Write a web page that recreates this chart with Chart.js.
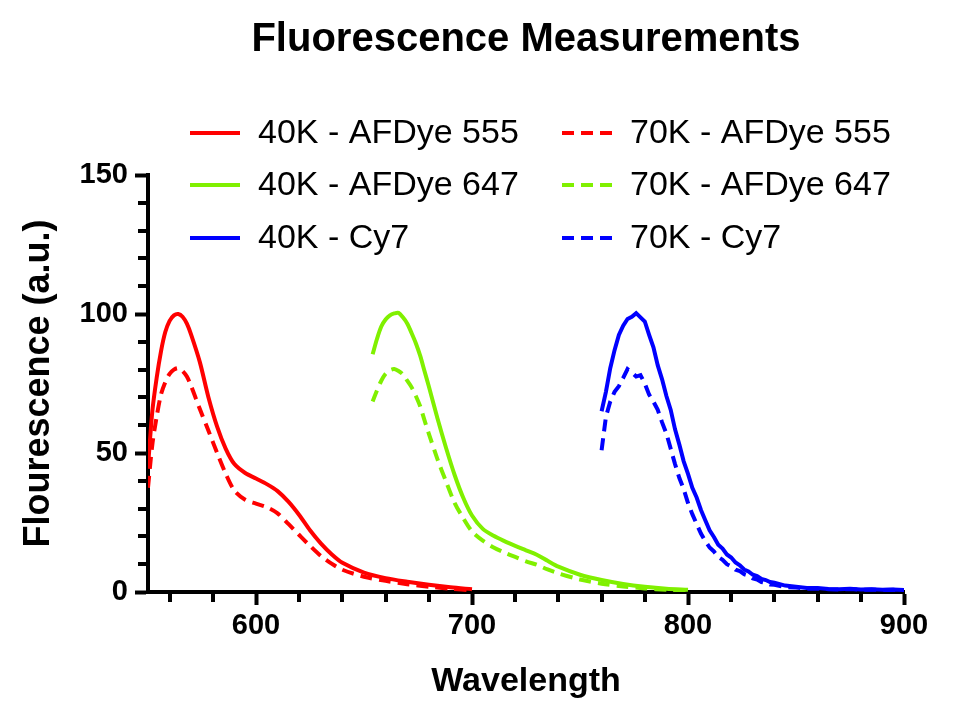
<!DOCTYPE html>
<html>
<head>
<meta charset="utf-8">
<title>Fluorescence Measurements</title>
<script src="https://cdn.jsdelivr.net/npm/chart.js@4/dist/chart.umd.min.js"></script>
<style>
  html, body { margin: 0; padding: 0; background: #fff; }
  canvas { display: block; }
</style>
</head>
<body>
<canvas id="myChart" width="980" height="716"></canvas>
<script>
// AFDye 555
var wl555 = [550, 552, 554, 556, 558, 560, 562, 564, 566, 568, 570, 574, 578, 582, 586, 590, 595, 600, 605, 610, 615, 620, 625, 630, 635, 640, 650, 660, 670, 680, 690, 700];
var afdye555_40K = [45, 65, 77, 86.5, 93.5, 97.5, 99.5, 100, 99, 96.5, 92.5, 82.7, 70, 59.5, 51.5, 46, 42.8, 40.8, 38.8, 36.3, 32.5, 27.7, 22.2, 17.5, 13.6, 10.5, 7, 5, 3.7, 2.6, 1.7, 1.0];
var afdye555_70K = [37.5, 53, 63, 71, 75.5, 78.5, 80, 80.5, 79.5, 77.5, 74, 65.8, 58, 50, 42.5, 36.5, 33.2, 31.8, 30.5, 28.3, 24.5, 20.5, 16.6, 13, 10.2, 8, 5.5, 4, 2.8, 1.9, 1.2, 0.6];

// AFDye 647
var wl647 = [654, 656, 658, 660, 662, 664, 666, 668, 670, 672, 674, 676, 678, 680, 684, 688, 692, 696, 700, 705, 710, 715, 720, 725, 730, 735, 740, 750, 760, 770, 780, 790, 800];
var afdye647_40K = [85.5, 91, 95.5, 98, 99.5, 100.2, 100.4, 98.8, 96.6, 93.2, 89.5, 85, 79.5, 74, 62.5, 51.8, 42, 33.8, 27.5, 22.7, 20.2, 18.3, 16.6, 15, 13.4, 11.2, 9.1, 6.2, 4.3, 2.9, 1.9, 1.2, 0.8];
var afdye647_70K = [68.5, 72.5, 76, 78.5, 79.8, 80.2, 79.5, 78.3, 76, 73.7, 70.5, 66.8, 61.8, 57, 47.8, 39.7, 32, 26.5, 21.8, 18.5, 16, 14.2, 12.6, 11, 9.8, 8.1, 6.7, 4.5, 3.0, 2.0, 1.3, 0.8, 0.5];

// Cy7
var wlCy7 = [760, 762, 764, 766, 768, 770, 772, 774, 776, 778, 780, 782, 784, 786, 788, 790, 792, 794, 796, 798, 800, 802, 804, 806, 808, 810, 812, 814, 816, 818, 820, 822, 824, 826, 828, 830, 832, 834, 836, 838, 840, 845, 850, 855, 860, 865, 870, 875, 880, 885, 890, 895, 900];
var cy7_40K = [65, 72, 80.5, 87, 92.5, 95.8, 98.2, 99, 100.3, 98.8, 97.3, 92.5, 88, 81.5, 76.5, 70.5, 65.5, 58.5, 53, 47, 42.5, 37.5, 34, 29.5, 25.8, 22.2, 19.8, 17, 15.6, 13.5, 12.4, 10.6, 9.6, 8.1, 7.4, 6.2, 5.7, 4.7, 4.3, 3.6, 3.3, 2.3, 1.9, 1.4, 1.4, 1.1, 1.0, 1.2, 0.9, 1.0, 0.8, 0.9, 0.7];
var cy7_70K = [51, 63, 68.5, 72, 74, 77, 80.2, 79, 77.5, 78, 75, 71, 68.5, 65.5, 61, 57, 51.5, 46, 41, 37, 32, 28, 24.5, 21, 18.3, 16, 14.6, 12.6, 11.6, 10, 9.2, 8, 7.5, 6.4, 5.9, 4.9, 4.5, 3.6, 3.3, 2.7, 2.6, 1.8, 1.6, 1.2, 1.2, 1.0, 0.9, 1.1, 0.8, 0.9, 0.7, 0.8, 0.6];

// axis ticks
var xTicks = [560, 580, 600, 620, 640, 660, 680, 700, 720, 740, 760, 780, 800, 820, 840, 860, 880, 900];
var xLabels = [600, 700, 800, 900];
var yTicks = [0, 10, 20, 30, 40, 50, 60, 70, 80, 90, 100, 110, 120, 130, 140, 150];
var yLabels = [0, 50, 100, 150];

function pts(xs, ys) {
  return xs.map(function (x, i) { return { x: x, y: ys[i] }; });
}

var RED = '#ff0000', GREEN = '#80f000', BLUE = '#0000ff';
var DASH = [12, 7];
var FONT = "'Liberation Sans', Arial, Helvetica, sans-serif";

Chart.defaults.font.family = FONT;
Chart.defaults.color = '#000';

// minor tick marks, shorter than the labelled ones
var minorTicks = {
  id: 'minorTicks',
  afterDraw: function (chart) {
    var ctx = chart.ctx, xs = chart.scales.x, ys = chart.scales.y;
    ctx.save();
    ctx.strokeStyle = '#000';
    ctx.lineWidth = 4;
    ctx.beginPath();
    xTicks.forEach(function (v) {
      if (xLabels.indexOf(v) >= 0) return;
      var px = Math.round(xs.getPixelForValue(v));
      ctx.moveTo(px, xs.top);
      ctx.lineTo(px, xs.top + 10);
    });
    yTicks.forEach(function (v) {
      if (yLabels.indexOf(v) >= 0) return;
      var py = Math.round(ys.getPixelForValue(v));
      ctx.moveTo(ys.right, py);
      ctx.lineTo(ys.right - 10, py);
    });
    ctx.stroke();
    ctx.restore();
  }
};

// two column legend inside the plot
var gridLegend = {
  id: 'gridLegend',
  afterDraw: function (chart) {
    var ctx = chart.ctx;
    var colX = [190, 562], rowY = [133, 185, 238];
    ctx.save();
    ctx.font = '34px ' + FONT;
    ctx.textBaseline = 'middle';
    ctx.fillStyle = '#000';
    chart.data.datasets.forEach(function (ds, i) {
      var x = colX[Math.floor(i / 3)], y = rowY[i % 3];
      ctx.strokeStyle = ds.borderColor;
      ctx.lineWidth = 4;
      ctx.setLineDash(ds.borderDash || []);
      ctx.beginPath();
      ctx.moveTo(x, y);
      ctx.lineTo(x + 50, y);
      ctx.stroke();
      ctx.setLineDash([]);
      ctx.fillText(ds.label, x + 68, y + 1);
    });
    ctx.restore();
  }
};

var ctx = document.getElementById('myChart').getContext('2d');
var myChart = new Chart(ctx, {
  type: 'line',
  data: {
    datasets: [
      { label: '40K - AFDye 555', data: pts(wl555, afdye555_40K), borderColor: RED },
      { label: '40K - AFDye 647', data: pts(wl647, afdye647_40K), borderColor: GREEN },
      { label: '40K - Cy7', data: pts(wlCy7, cy7_40K), borderColor: BLUE, tension: 0 },
      { label: '70K - AFDye 555', data: pts(wl555, afdye555_70K), borderColor: RED, borderDash: DASH },
      { label: '70K - AFDye 647', data: pts(wl647, afdye647_70K), borderColor: GREEN, borderDash: DASH },
      { label: '70K - Cy7', data: pts(wlCy7, cy7_70K), borderColor: BLUE, borderDash: DASH, tension: 0 }
    ]
  },
  options: {
    responsive: false,
    animation: false,
    devicePixelRatio: 1,
    layout: { padding: { left: 0, right: 76, top: 0, bottom: 0 } },
    elements: {
      point: { radius: 0 },
      line: { borderWidth: 4, tension: 0.3, fill: false }
    },
    plugins: {
      legend: { display: false },
      tooltip: { enabled: false },
      title: {
        display: true,
        text: 'Fluorescence Measurements',
        fullSize: false,
        color: '#000',
        font: { size: 40, weight: 'bold' },
        padding: { top: 16, bottom: 111 }
      }
    },
    scales: {
      x: {
        type: 'linear',
        min: 550,
        max: 900,
        afterBuildTicks: function (scale) {
          scale.ticks = xTicks.map(function (v) { return { value: v }; });
        },
        afterFit: function (scale) { scale.height = 124; },
        ticks: {
          autoSkip: false,
          maxRotation: 0,
          padding: 4,
          font: { size: 29, weight: 'bold' },
          callback: function (v) { return xLabels.indexOf(v) >= 0 ? String(v) : ''; }
        },
        grid: {
          drawOnChartArea: false,
          tickLength: 13,
          tickWidth: 4,
          tickColor: function (c) { return c.tick && xLabels.indexOf(c.tick.value) >= 0 ? '#000' : 'rgba(0,0,0,0)'; }
        },
        border: { display: true, color: '#000', width: 4 },
        title: {
          display: true,
          text: 'Wavelength',
          font: { size: 34, weight: 'bold' },
          padding: { top: 0, bottom: 14 }
        }
      },
      y: {
        type: 'linear',
        min: 0,
        max: 150,
        afterBuildTicks: function (scale) {
          scale.ticks = yTicks.map(function (v) { return { value: v }; });
        },
        afterFit: function (scale) { scale.width = 148; },
        ticks: {
          autoSkip: false,
          padding: 7,
          font: { size: 29, weight: 'bold' },
          callback: function (v) { return yLabels.indexOf(v) >= 0 ? String(v) : ''; }
        },
        grid: {
          drawOnChartArea: false,
          tickLength: 13,
          tickWidth: 4,
          tickColor: function (c) { return c.tick && yLabels.indexOf(c.tick.value) >= 0 ? '#000' : 'rgba(0,0,0,0)'; }
        },
        border: { display: true, color: '#000', width: 4 },
        title: {
          display: true,
          text: 'Flourescence (a.u.)',
          font: { size: 36, weight: 'bold' },
          padding: { top: 17, bottom: 0 }
        }
      }
    }
  },
  plugins: [minorTicks, gridLegend]
});
</script>
</body>
</html>
